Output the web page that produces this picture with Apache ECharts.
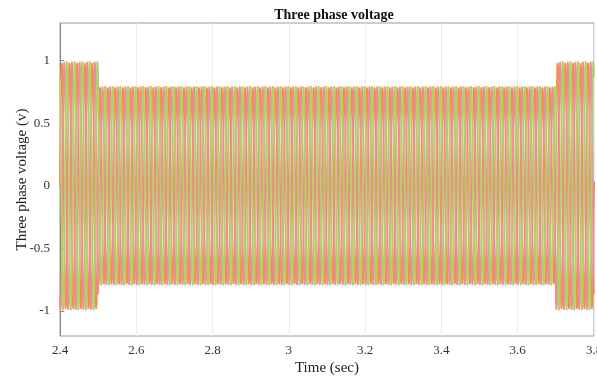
<!DOCTYPE html>
<html>
<head>
<meta charset="utf-8">
<script src="https://cdn.jsdelivr.net/npm/echarts@6/dist/echarts.min.js"></script>
<style>html,body{margin:0;padding:0;background:#fff}#c{width:597px;height:383px}</style>
</head>
<body>
<div id="c"></div>
<script>
// Values
var chartTitle = 'Three phase voltage';
var xAxisName = 'Time (sec)';
var yAxisName = 'Three phase voltage (v)';
var xTicks = [2.4, 2.6, 2.8, 3.0, 3.2, 3.4, 3.6, 3.8];
var yTicks = [-1, -0.5, 0, 0.5, 1];
var segmentStart = [2.4, 2.5, 3.7];     // s
var segmentEnd = [2.5, 3.7, 3.8];       // s
var segmentAmplitude = [1.0, 0.8, 1.0]; // per-unit peak
var frequencyHz = [50];
var phaseNames = ['Va', 'Vb', 'Vc'];
var phaseShiftDeg = [0, -120, 120];
var sampleStep = [0.0004];

function amplitudeAt(t) {
  for (var i = 0; i < segmentStart.length; i++) {
    if (t >= segmentStart[i] - 1e-9 && t < segmentEnd[i] + 1e-9) return segmentAmplitude[i];
  }
  return 0;
}
function phaseData(k) {
  var out = [];
  var t0 = segmentStart[0], t1 = segmentEnd[segmentEnd.length - 1];
  var n = Math.round((t1 - t0) / sampleStep[0]);
  for (var i = 0; i <= n; i++) {
    var t = t0 + i * sampleStep[0];
    out.push([t, amplitudeAt(t) * Math.sin(2 * Math.PI * frequencyHz[0] * t + phaseShiftDeg[k] * Math.PI / 180)]);
  }
  return out;
}
var colors = ['#ec9444', '#f08a9c', '#b2cf6e'];
var serif = 'Liberation Serif';
var chart = echarts.init(document.getElementById('c'));
chart.setOption({
  animation: false,
  title: {text: chartTitle, left: 329, top: 3, textAlign: 'center',
    textStyle: {fontFamily: serif, fontSize: 14, fontWeight: 'bold', color: '#111'}},
  grid: {left: 60, right: 3, top: 23, bottom: 47, outerBoundsMode: 'none', containLabel: false,
    show: true, borderColor: '#9a9a9a', borderWidth: 1},
  xAxis: {
    type: 'value', min: 2.4, max: 3.8, interval: 0.2,
    name: xAxisName, nameLocation: 'middle', nameGap: 25, nameMoveOverlap: false,
    nameTextStyle: {fontFamily: serif, fontSize: 15, color: '#222'},
    axisLine: {lineStyle: {color: '#8a8a8a'}},
    axisTick: {inside: true, length: 4, lineStyle: {color: '#8a8a8a'}},
    axisLabel: {fontFamily: serif, fontSize: 13, color: '#333', margin: 8,
      formatter: function (v) { return String(+v.toFixed(1)); }},
    splitLine: {show: true, lineStyle: {color: '#ececec'}}
  },
  yAxis: {
    type: 'value', min: -1.2, max: 1.3,
    name: yAxisName, nameLocation: 'middle', nameGap: 30, nameMoveOverlap: false,
    nameTextStyle: {fontFamily: serif, fontSize: 15, color: '#222'},
    axisLine: {show: true, lineStyle: {color: '#8a8a8a'}},
    axisTick: {inside: true, length: 4, customValues: yTicks, lineStyle: {color: '#8a8a8a'}},
    axisLabel: {fontFamily: serif, fontSize: 13, color: '#333', margin: 10, customValues: yTicks,
      formatter: function (v) { return String(+v.toFixed(1)); }},
    splitLine: {show: false}
  },
  series: phaseNames.map(function (nm, k) {
    return {name: nm, type: 'line', data: phaseData(k), showSymbol: false, symbol: 'none',
      sampling: null, lineStyle: {width: 1.8, color: colors[k]}, z: 2 + k};
  })
});
</script>
</body>
</html>
